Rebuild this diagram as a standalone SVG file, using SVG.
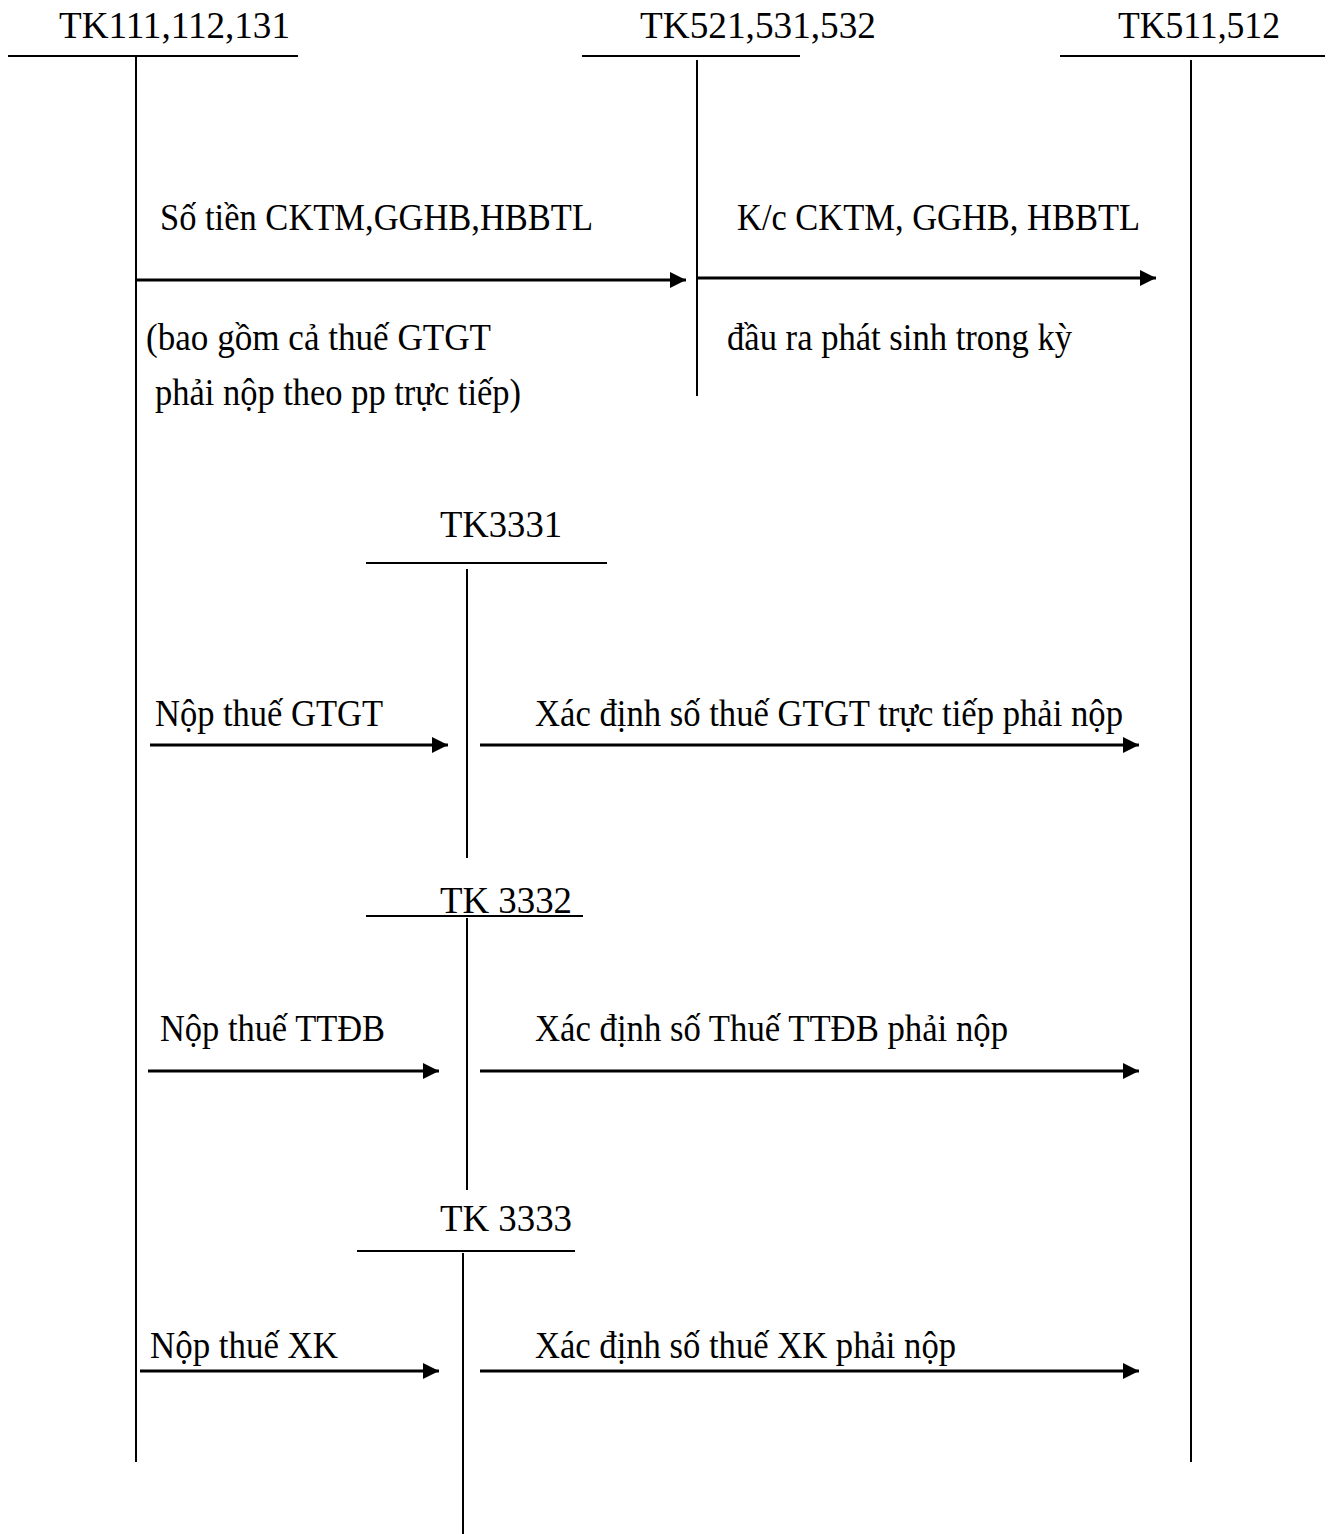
<svg xmlns="http://www.w3.org/2000/svg" width="1331" height="1534" viewBox="0 0 1331 1534">
  <style>
    text { font-family: "Liberation Serif", "Times New Roman", serif; font-size: 37px; fill: #000; }
    .acct { stroke: #000; stroke-width: 2; fill: none; }
    .arrow { stroke: #000; stroke-width: 3; fill: none; marker-end: url(#ah); }
  </style>
  <defs>
    <marker id="ah" markerUnits="userSpaceOnUse" markerWidth="17" markerHeight="16" refX="16" refY="8" orient="auto">
      <path d="M0,0 L16,8 L0,16 Z" fill="#000"/>
    </marker>
  </defs>
  <rect width="1331" height="1534" fill="#fff"/>

  <g id="tk111">
    <text x="59" y="38" textLength="231" lengthAdjust="spacingAndGlyphs">TK111,112,131</text>
    <line class="acct" x1="8" y1="56" x2="298" y2="56"/>
    <line class="acct" x1="136" y1="57" x2="136" y2="1462"/>
  </g>
  <g id="tk521">
    <text x="640" y="38" textLength="236" lengthAdjust="spacingAndGlyphs">TK521,531,532</text>
    <line class="acct" x1="582" y1="56" x2="800" y2="56"/>
    <line class="acct" x1="697" y1="60" x2="697" y2="396"/>
  </g>
  <g id="tk511">
    <text x="1118" y="38" textLength="162" lengthAdjust="spacingAndGlyphs">TK511,512</text>
    <line class="acct" x1="1060" y1="56" x2="1325" y2="56"/>
    <line class="acct" x1="1191" y1="60" x2="1191" y2="1462"/>
  </g>
  <g id="tk3331">
    <text x="440" y="537" textLength="122" lengthAdjust="spacingAndGlyphs">TK3331</text>
    <line class="acct" x1="366" y1="563" x2="607" y2="563"/>
    <line class="acct" x1="467" y1="569" x2="467" y2="858"/>
  </g>
  <g id="tk3332">
    <text x="440" y="913" textLength="132" lengthAdjust="spacingAndGlyphs">TK 3332</text>
    <line class="acct" x1="366" y1="916" x2="583" y2="916"/>
    <line class="acct" x1="467" y1="918" x2="467" y2="1190"/>
  </g>
  <g id="tk3333">
    <text x="440" y="1231" textLength="132" lengthAdjust="spacingAndGlyphs">TK 3333</text>
    <line class="acct" x1="357" y1="1251" x2="575" y2="1251"/>
    <line class="acct" x1="463" y1="1253" x2="463" y2="1534"/>
  </g>

  <g id="connectors">
    <line class="arrow" x1="136" y1="280" x2="686" y2="280"/>
    <line class="arrow" x1="697" y1="278" x2="1156" y2="278"/>
    <line class="arrow" x1="150" y1="745" x2="448" y2="745"/>
    <line class="arrow" x1="480" y1="745" x2="1139" y2="745"/>
    <line class="arrow" x1="148" y1="1071" x2="439" y2="1071"/>
    <line class="arrow" x1="480" y1="1071" x2="1139" y2="1071"/>
    <line class="arrow" x1="140" y1="1371" x2="439" y2="1371"/>
    <line class="arrow" x1="480" y1="1371" x2="1139" y2="1371"/>
  </g>

  <g id="labels">
    <text x="160" y="230" textLength="433" lengthAdjust="spacingAndGlyphs">Số tiền CKTM,GGHB,HBBTL</text>
    <text x="146" y="350" textLength="345" lengthAdjust="spacingAndGlyphs">(bao gồm cả thuế GTGT</text>
    <text x="155" y="405" textLength="366" lengthAdjust="spacingAndGlyphs">phải nộp theo pp trực tiếp)</text>
    <text x="737" y="230" textLength="403" lengthAdjust="spacingAndGlyphs">K/c CKTM, GGHB, HBBTL</text>
    <text x="727" y="350" textLength="345" lengthAdjust="spacingAndGlyphs">đầu ra phát sinh trong kỳ</text>
    <text x="155" y="726" textLength="228" lengthAdjust="spacingAndGlyphs">Nộp thuế GTGT</text>
    <text x="535" y="726" textLength="588" lengthAdjust="spacingAndGlyphs">Xác định số thuế GTGT trực tiếp phải nộp</text>
    <text x="160" y="1041" textLength="225" lengthAdjust="spacingAndGlyphs">Nộp thuế TTĐB</text>
    <text x="535" y="1041" textLength="473" lengthAdjust="spacingAndGlyphs">Xác định số Thuế TTĐB phải nộp</text>
    <text x="150" y="1358" textLength="188" lengthAdjust="spacingAndGlyphs">Nộp thuế XK</text>
    <text x="535" y="1358" textLength="421" lengthAdjust="spacingAndGlyphs">Xác định số thuế XK phải nộp</text>
  </g>
</svg>
